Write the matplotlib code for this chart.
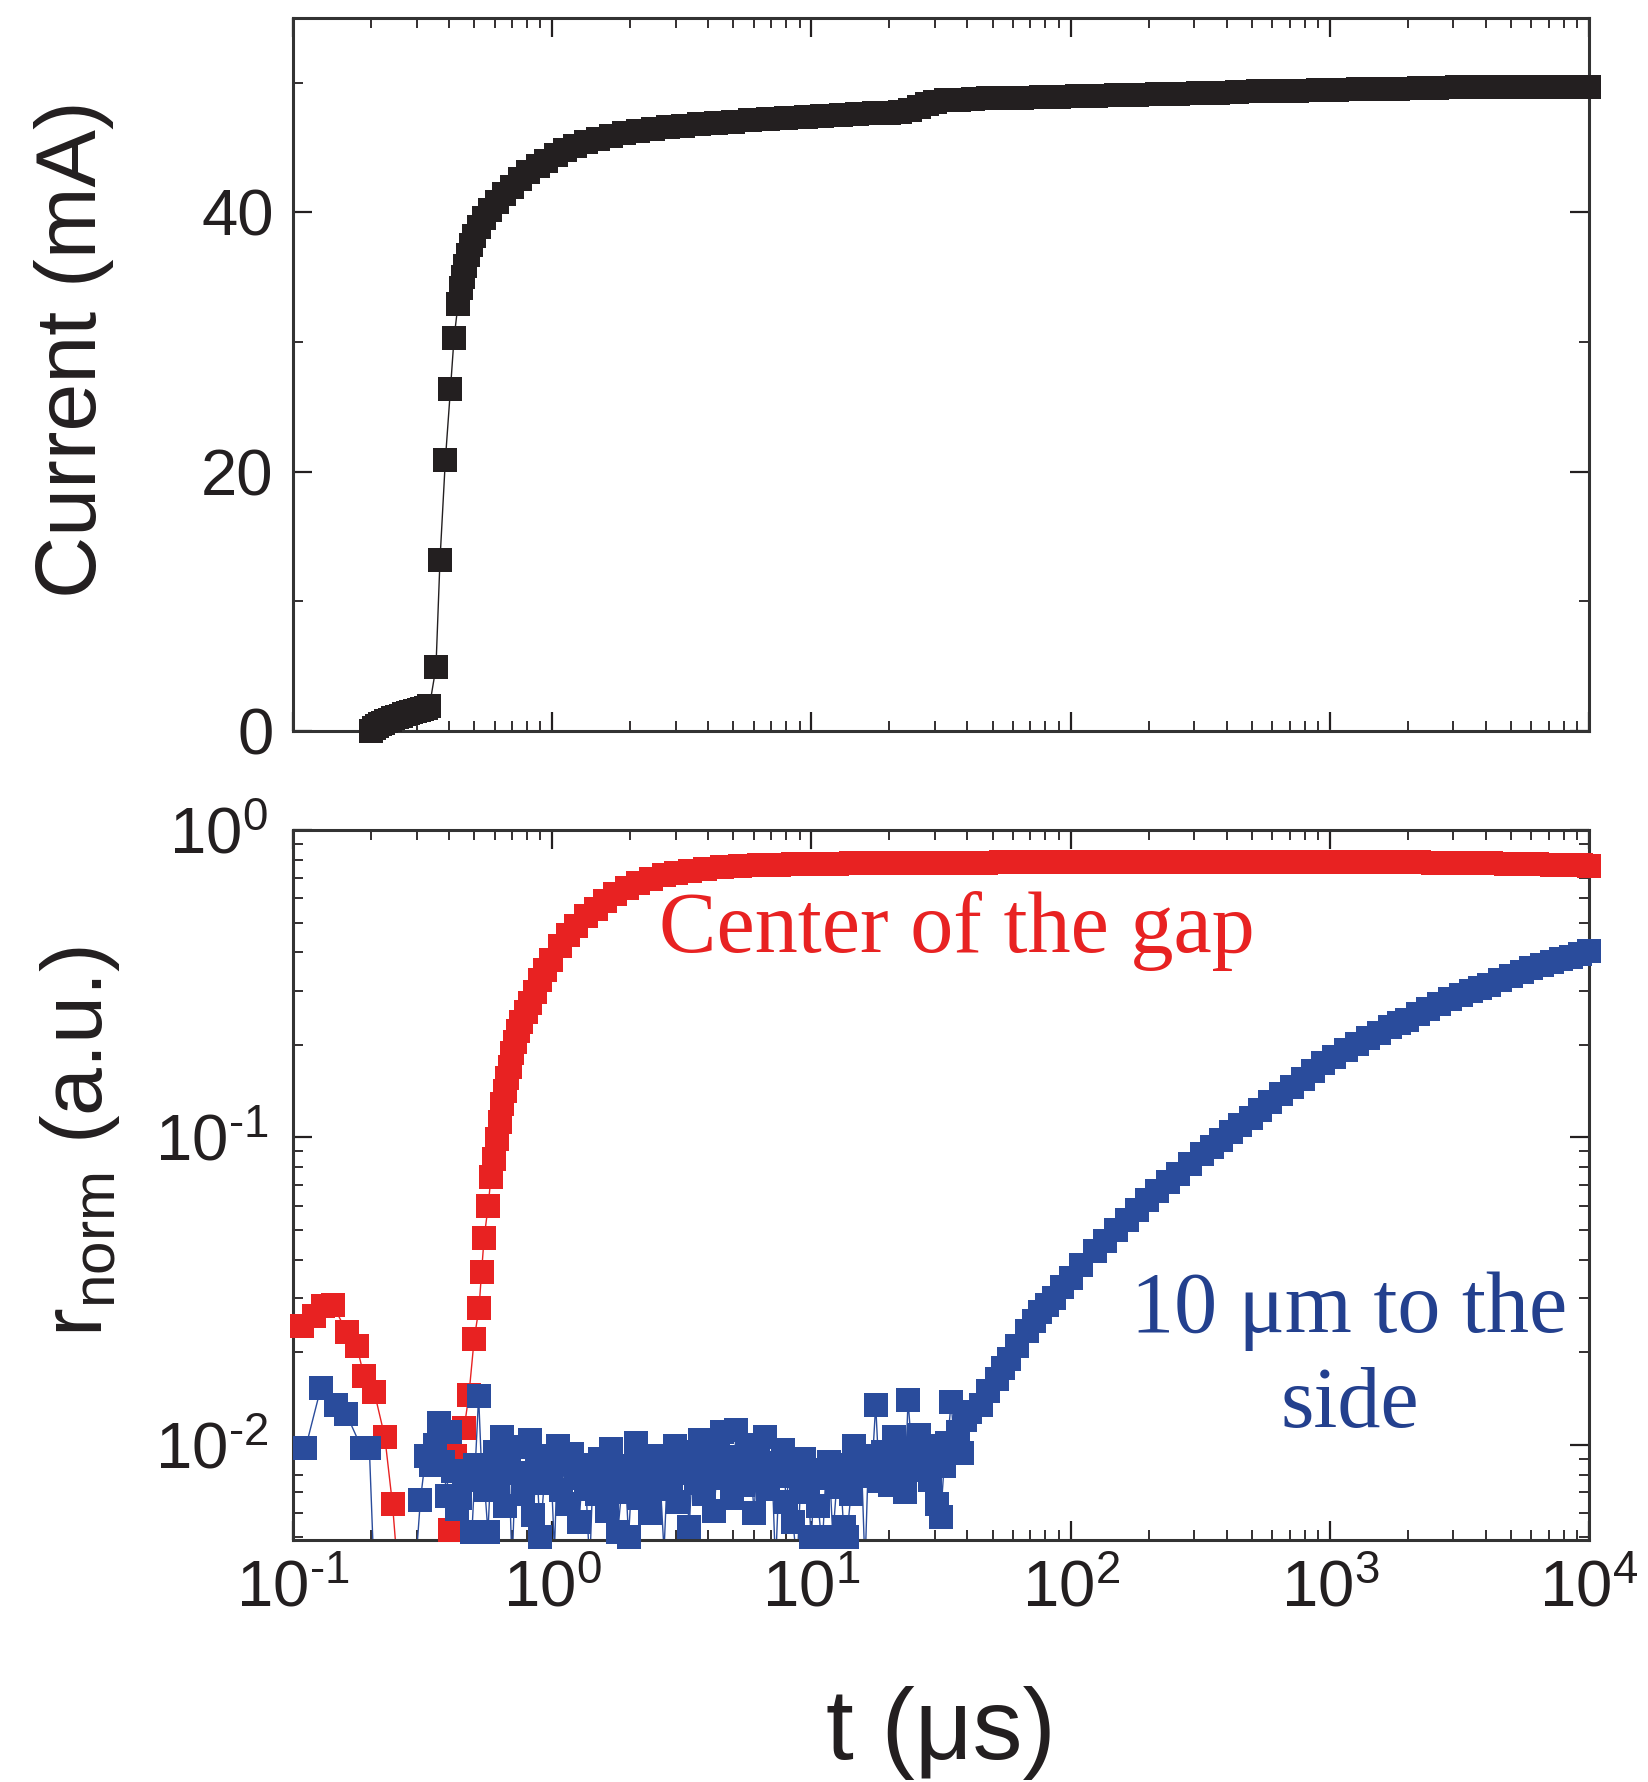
import numpy as np
import matplotlib
matplotlib.use("Agg")
import matplotlib.pyplot as plt
from matplotlib.ticker import MultipleLocator, LogLocator, NullFormatter, FuncFormatter

plt.rcParams['font.family'] = ['Liberation Sans', 'DejaVu Sans']
plt.rcParams['mathtext.fontset'] = 'custom'
plt.rcParams['mathtext.rm'] = 'Liberation Sans'
plt.rcParams['mathtext.it'] = 'Liberation Sans:italic'
plt.rcParams['axes.unicode_minus'] = False

# --- current (top panel) ---
t_current = [0.200, 0.205, 0.210, 0.216, 0.222, 0.229, 0.236, 0.244, 0.252, 0.260,
             0.268, 0.277, 0.286, 0.295, 0.305, 0.315, 0.325, 0.336,
             0.356, 0.369, 0.387, 0.405, 0.418, 0.433,
             0.445, 0.453, 0.462, 0.472, 0.485, 0.50, 0.52, 0.545, 0.575, 0.61,
             0.65, 0.70, 0.75, 0.81, 0.88, 0.95, 1.03, 1.12, 1.22, 1.35,
             1.50, 1.68, 1.90, 2.15, 2.45, 2.8, 3.2, 3.7, 4.3, 5.0,
             5.8, 6.8, 8.0, 9.5, 11, 13, 15, 17.5, 20, 22,
             24, 26, 28, 30, 33, 37, 42, 48, 55, 65,
             77, 90, 106, 125, 150, 180, 215, 260, 310, 370,
             440, 530, 630, 750, 900, 1070, 1280, 1530, 1830, 2200,
             2600, 3100, 3700, 4400, 5300, 6300, 7500, 8900, 10000]
i_current = [0.0, 0.25, 0.4, 0.55, 0.65, 0.78, 0.88, 0.98, 1.08, 1.18,
             1.28, 1.38, 1.46, 1.55, 1.63, 1.72, 1.80, 1.90,
             4.9, 13.2, 20.9, 26.4, 30.3, 32.9,
             34.2, 35.0, 35.9, 36.7, 37.5, 38.2, 38.9, 39.6, 40.2, 40.8,
             41.4, 42.0, 42.6, 43.1, 43.6, 44.0, 44.4, 44.8, 45.1, 45.4,
             45.7, 45.9, 46.1, 46.3, 46.45, 46.6, 46.7, 46.8, 46.9, 47.0,
             47.1, 47.2, 47.3, 47.4, 47.45, 47.55, 47.6, 47.65, 47.7, 47.75,
             47.9, 48.15, 48.4, 48.55, 48.65, 48.7, 48.75, 48.8, 48.82, 48.85,
             48.9, 48.93, 48.96, 49.0, 49.03, 49.07, 49.1, 49.15, 49.2, 49.25,
             49.3, 49.33, 49.37, 49.4, 49.43, 49.46, 49.5, 49.53, 49.56, 49.6,
             49.62, 49.64, 49.66, 49.68, 49.7, 49.7, 49.7, 49.7, 49.7]

# --- center of the gap (red) ---
t_center = [0.108, 0.120, 0.131, 0.143, 0.161, 0.176, 0.188, 0.206, 0.226, 0.242,
            0.26, 0.33, 0.403, 0.420, 0.457, 0.477, 0.500, 0.522, 0.534, 0.546,
            0.566, 0.580, 0.595, 0.612, 0.627, 0.642, 0.655, 0.67, 0.685, 0.70,
            0.717, 0.74, 0.76, 0.79, 0.82, 0.86, 0.90, 0.94, 0.985, 1.07,
            1.15, 1.24, 1.35, 1.47, 1.60, 1.75, 1.95, 2.15, 2.4, 2.7,
            3.0, 3.4, 3.9, 4.5, 5.3, 6.3, 7.5, 8.5, 9.7, 11,
            12.5, 14.2, 16.2, 18.5, 21, 24, 27.5, 31.5, 36, 41,
            47, 54, 62, 71, 81, 93, 106, 120, 137, 156,
            178, 203, 232, 265, 300, 345, 395, 450, 515, 590,
            670, 765, 875, 1000, 1140, 1300, 1480, 1690, 1930, 2200,
            2500, 2850, 3250, 3700, 4200, 4800, 5500, 6300, 7200, 8200,
            9300, 10000]
r_center = [0.0244, 0.0262, 0.0282, 0.0284, 0.0233, 0.0210, 0.0167, 0.0148, 0.0106, 0.0064,
            0.0030, 0.0030, 0.0053, 0.0092, 0.0113, 0.0145, 0.0221, 0.0279, 0.0366, 0.0471,
            0.0597, 0.0741, 0.085, 0.099, 0.112, 0.128, 0.142, 0.156, 0.170, 0.188,
            0.205, 0.222, 0.238, 0.256, 0.273, 0.298, 0.325, 0.350, 0.379, 0.42,
            0.455, 0.488, 0.525, 0.555, 0.588, 0.618, 0.650, 0.675, 0.695, 0.712,
            0.725, 0.738, 0.748, 0.756, 0.763, 0.768, 0.772, 0.774, 0.775, 0.777,
            0.778, 0.779, 0.780, 0.781, 0.782, 0.782, 0.783, 0.783, 0.784, 0.784,
            0.784, 0.785, 0.785, 0.785, 0.785, 0.785, 0.785, 0.785, 0.785, 0.785,
            0.785, 0.785, 0.785, 0.785, 0.785, 0.785, 0.785, 0.785, 0.785, 0.785,
            0.785, 0.785, 0.785, 0.785, 0.785, 0.785, 0.785, 0.785, 0.785, 0.785,
            0.784, 0.783, 0.782, 0.780, 0.779, 0.777, 0.775, 0.773, 0.771, 0.769,
            0.767, 0.766]

# --- 10 um to the side (blue): early part, noisy floor, rise ---
t_side_early = [0.1117, 0.128, 0.1466, 0.1606, 0.184, 0.197, 0.205, 0.25, 0.297]
r_side_early = [0.00975, 0.0153, 0.0135, 0.0126, 0.00975, 0.00975, 0.0040, 0.0045, 0.0040]

t_side_floor = [0.310, 0.325, 0.340, 0.353, 0.366, 0.380, 0.392, 0.403, 0.415, 0.428,
                0.440, 0.457, 0.475, 0.49, 0.505, 0.52, 0.535, 0.55, 0.565, 0.58,
                0.60, 0.62, 0.64, 0.66, 0.68, 0.70, 0.72, 0.745, 0.77, 0.795,
                0.82, 0.845, 0.87, 0.90, 0.93, 0.96, 0.99, 1.02, 1.05, 1.085,
                1.12, 1.155, 1.19, 1.23, 1.27, 1.31, 1.35, 1.395, 1.44, 1.485,
                1.53, 1.58, 1.63, 1.68, 1.735, 1.79, 1.85, 1.91, 1.97, 2.03,
                2.10, 2.17, 2.24, 2.31, 2.38, 2.46, 2.54, 2.62, 2.70, 2.79,
                2.88, 2.97, 3.07, 3.17, 3.27, 3.38, 3.49, 3.60, 3.72, 3.84,
                3.96, 4.09, 4.22, 4.36, 4.50, 4.65, 4.80, 4.96, 5.12, 5.29,
                5.46, 5.64, 5.82, 6.01, 6.20, 6.40, 6.61, 6.82, 7.04, 7.27,
                7.5, 7.75, 8.0, 8.25, 8.5, 8.8, 9.1, 9.4, 9.7, 10.0,
                10.3, 10.65, 11.0, 11.35, 11.7, 12.1, 12.5, 12.9, 13.3, 13.7,
                14.2, 14.6, 15.1, 15.6, 16.1, 16.6, 17.1, 17.7, 18.3, 18.9,
                19.5, 20.1, 20.8, 21.5, 22.2, 22.9, 23.6, 24.4, 25.2, 26.0,
                26.8, 27.7, 28.6, 29.5, 30.5, 31.5, 32.5, 33.5, 34.6, 35.7,
                36.9, 38.1, 39.3]
r_side_floor = [0.0066, 0.0092, 0.0086, 0.0100, 0.0118, 0.0088, 0.0068, 0.0110, 0.0082, 0.0062,
                0.0067, 0.0077, 0.0040, 0.0052, 0.0086, 0.0144, 0.0080, 0.0071, 0.0052, 0.0084,
                0.0095, 0.0074, 0.0106, 0.0063, 0.0089, 0.0040, 0.0081, 0.0098, 0.0069, 0.0080,
                0.0104, 0.0059, 0.0089, 0.0050, 0.0075, 0.0092, 0.0083, 0.0045, 0.0099, 0.0071,
                0.0087, 0.0064, 0.0093, 0.0078, 0.0056, 0.0083, 0.0072, 0.0040, 0.0086, 0.0069,
                0.0090, 0.0076, 0.0061, 0.0097, 0.0081, 0.0052, 0.0070, 0.0085, 0.0050, 0.0078,
                0.0101, 0.0067, 0.0088, 0.0079, 0.0060, 0.0092, 0.0084, 0.0072, 0.0045, 0.0087,
                0.0077, 0.0099, 0.0065, 0.0088, 0.0081, 0.0054, 0.0095, 0.0075, 0.0104, 0.0069,
                0.0090, 0.0083, 0.0061, 0.0097, 0.0110, 0.0078, 0.0091, 0.0067, 0.0112, 0.0086,
                0.0074, 0.0100, 0.0088, 0.0060, 0.0095, 0.0081, 0.0106, 0.0072, 0.0087, 0.0040,
                0.0079, 0.0096, 0.0065, 0.0085, 0.0056, 0.0040, 0.0077, 0.0090, 0.0070, 0.0050,
                0.0083, 0.0063, 0.0045, 0.0078, 0.0088, 0.0050, 0.0073, 0.0086, 0.0054, 0.0050,
                0.0069, 0.0099, 0.0079, 0.0088, 0.0040, 0.0092, 0.0081, 0.0135, 0.0076, 0.0095,
                0.0086, 0.0074, 0.0106, 0.0079, 0.0090, 0.0070, 0.0140, 0.0094, 0.0083, 0.0108,
                0.0087, 0.0099, 0.0077, 0.0092, 0.0064, 0.0058, 0.0085, 0.0101, 0.0138, 0.0098,
                0.0110, 0.0094, 0.0120]

t_side_rise = [41, 45, 48, 52, 55, 58, 62, 68, 72, 76,
               81, 86, 93, 100, 110, 124, 136, 150, 165, 180,
               197, 216, 237, 260, 290, 320, 350, 380, 415, 452,
               495, 540, 590, 650, 715, 790, 865, 944, 1040, 1150,
               1270, 1400, 1550, 1700, 1850, 1977, 2180, 2400, 2650, 2900,
               3200, 3500, 3800, 4130, 4550, 5000, 5500, 6000, 6600, 7200,
               7800, 8500, 9200, 10000]
r_side_rise = [0.0128, 0.0135, 0.0150, 0.0164, 0.0178, 0.0190, 0.0210, 0.0235, 0.0252, 0.0270,
               0.0285, 0.0300, 0.0325, 0.0350, 0.0385, 0.0427, 0.0460, 0.0500, 0.0540, 0.0580,
               0.0625, 0.0668, 0.0715, 0.0760, 0.0820, 0.0880, 0.0930, 0.0980, 0.1040, 0.1100,
               0.1160, 0.1230, 0.1300, 0.1380, 0.1460, 0.1550, 0.1650, 0.1750, 0.1830, 0.1920,
               0.2010, 0.2100, 0.2190, 0.2280, 0.2350, 0.2410, 0.2520, 0.2620, 0.2720, 0.2820,
               0.2910, 0.3000, 0.3070, 0.3140, 0.3250, 0.3350, 0.3450, 0.3550, 0.3640, 0.3720,
               0.3800, 0.3870, 0.3940, 0.4030]

t_side = t_side_early + t_side_floor + t_side_rise
r_side = r_side_early + r_side_floor + r_side_rise

black = '#231F20'
red = '#E82222'
blue = '#2A4C9C'
blue_text = '#23408E'

fig = plt.figure(figsize=(16.49, 17.82), dpi=100)
ax1 = fig.add_axes([0.1777, 0.5898, 0.7859, 0.4001])
ax2 = fig.add_axes([0.1777, 0.1358, 0.7859, 0.3984])

R_MIN = 0.0049


def plot_series(ax, t, y, color, ymin=None):
    t = np.asarray(t)
    y = np.asarray(y)
    ax.plot(t, y, '-', color=color, lw=1.0, zorder=2)
    keep = np.ones(len(y), bool) if ymin is None else (y >= ymin)
    ax.plot(t[keep], y[keep], 's', color=color, ms=17.5, mew=0,
            clip_on=False, zorder=3)


def decade_label(v, pos):
    e = int(round(np.log10(v)))
    if e < 0:
        return r'$\mathdefault{10^{\text{-}%d}}$' % (-e)
    return r'$\mathdefault{10^{%d}}$' % e


# top panel
plot_series(ax1, t_current, i_current, black)
ax1.set_xscale('log')
ax1.set_xlim(0.1, 1e4)
ax1.set_ylim(0, 55)
ax1.yaxis.set_major_locator(MultipleLocator(20))
ax1.yaxis.set_minor_locator(MultipleLocator(10))
ax1.xaxis.set_minor_locator(LogLocator(base=10, subs=np.arange(2, 10)))
ax1.xaxis.set_minor_formatter(NullFormatter())
ax1.tick_params(labelbottom=False)
ax1.tick_params(axis='y', labelsize=47, pad=14)

# bottom panel
plot_series(ax2, t_center, r_center, red, R_MIN)
plot_series(ax2, t_side, r_side, blue, R_MIN)
ax2.set_xscale('log')
ax2.set_yscale('log')
ax2.set_xlim(0.1, 1e4)
ax2.set_ylim(R_MIN, 1.0)
for axis in (ax2.xaxis, ax2.yaxis):
    axis.set_major_locator(LogLocator(base=10, numticks=20))
    axis.set_minor_locator(LogLocator(base=10, subs=np.arange(2, 10), numticks=50))
    axis.set_minor_formatter(NullFormatter())
    axis.set_major_formatter(FuncFormatter(decade_label))
ax2.tick_params(axis='y', labelsize=47, pad=18)
ax2.tick_params(axis='x', labelsize=47, pad=14)

for ax in (ax1, ax2):
    ax.tick_params(which='both', direction='in', top=True, right=True, colors=black)
    ax.tick_params(which='major', length=14, width=1.6)
    ax.tick_params(which='minor', length=7, width=1.3)
    for sp in ax.spines.values():
        sp.set_linewidth(2.2)
        sp.set_color('#333333')

ax2.text(36.5, 0.402, 'Center of the gap', color=red, fontsize=62,
         family=['Liberation Serif', 'DejaVu Serif'], ha='center', va='baseline')
ax2.text(1191, 0.01143, '10 \u03bcm to the\nside', color=blue_text, fontsize=62,
         family=['Liberation Serif', 'DejaVu Serif'], ha='center', va='baseline',
         linespacing=1.25, multialignment='center')

fig.text(74 / 1649, 1 - 349 / 1782, 'Current (mA)', rotation=90, fontsize=62,
         ha='center', va='center', color=black)
fig.text(80 / 1649, 1 - 1142 / 1782, r'r$_{\mathrm{norm}}$ (a.u.)', rotation=90,
         fontsize=62, ha='center', va='center', color=black)

ax2.set_xlabel('t (\u03bcs)', fontsize=72, color=black)
ax2.xaxis.set_label_coords(0.5, -0.205)

fig.savefig('out.png', dpi=100)
